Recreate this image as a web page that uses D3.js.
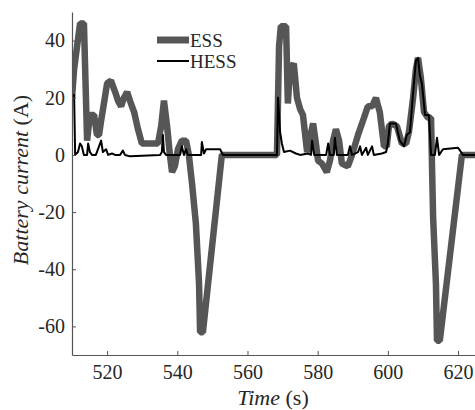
<!DOCTYPE html>
<html>
<head>
<meta charset="utf-8">
<script src="https://cdn.jsdelivr.net/npm/d3@7"></script>
<style>
  body { margin: 0; background: #fff; }
  svg text { font-family: "Liberation Serif", "DejaVu Serif", serif; fill: #262626; }
</style>
</head>
<body>
<div id="chart_area"></div>
<script>
// ESS battery current (time in s, current in A)
var essTime = [510.0, 510.6, 512.3, 513.4, 514.3, 515.1, 516.3, 517.1, 517.7, 518.3, 519.1, 520.0, 521.1,
  522.3, 523.1, 524.0, 524.8, 525.7, 526.5, 527.7, 528.8, 529.9, 534.5, 535.4, 536.2, 537.1, 537.9,
  538.5, 539.3, 540.2, 541.3, 542.5, 543.3, 544.2, 545.3, 546.2, 546.5, 547.3, 552.7, 568.4, 569.0,
  569.5, 571.0, 571.5, 572.1, 573.2, 574.1, 575.0, 575.8, 577.0, 577.8, 578.7, 579.5, 580.1, 581.2,
  582.6, 583.5, 584.4, 585.2, 586.1, 586.9, 588.6, 589.8, 591.5, 593.2, 594.3, 595.5, 596.6, 597.7,
  598.9, 599.7, 600.3, 601.2, 602.6, 604.0, 605.2, 606.0, 607.2, 608.0, 608.6, 609.4, 610.3, 611.4,
  612.3, 612.6, 612.9, 613.7, 614.0, 614.8, 621.1, 630.0];
var essCurrent = [20, 30, 46, 46, 5, 14, 14, 7, 7, 12, 18, 25, 26,
  22, 19, 17, 20, 22, 19, 15, 9, 4, 4, 10, 19, 10, 0,
  -6, -4, 2, 5, 5, 0, -10, -24, -45, -62, -62, 0, 0, 38,
  45, 45, 18, 30, 32, 20, 16, 14, 1, 6, 11, 4, -2, -3,
  -6, -2, 5, 9, 5, -3, -4, 0, 7, 13, 17, 17, 20, 15,
  3, 3, 10, 11, 10, 4, 4, 8, 20, 30, 34, 27, 15, 13,
  13, -5, -22, -45, -65, -65, 0, 0];

// HESS battery current
var hessTime = [510.0, 510.6, 510.9, 511.7, 512.3, 512.8, 513.4, 514.3, 514.6, 515.1, 515.7, 516.8,
  517.7, 518.3, 518.8, 519.7, 520.3, 521.4, 522.3, 523.7, 524.5, 525.1, 526.5, 535.1, 535.6, 535.9,
  536.2, 536.8, 540.8, 541.3, 541.9, 542.5, 543.0, 546.8, 547.0, 547.6, 548.2, 552.2, 553.0, 568.4,
  568.7, 569.3, 569.8, 570.4, 572.1, 573.8, 575.0, 577.2, 578.1, 578.4, 579.0, 580.7, 582.4, 583.0,
  583.5, 584.6, 584.9, 585.5, 588.6, 589.2, 589.8, 591.5, 592.1, 592.6, 593.8, 594.3, 595.5, 596.0,
  598.3, 599.5, 600.0, 600.6, 602.3, 603.4, 604.6, 605.4, 606.3, 607.2, 608.0, 608.6, 609.1, 609.7,
  610.6, 611.7, 612.3, 613.4, 614.0, 614.6, 615.7, 620.0, 621.4, 630.0];
var hessCurrent = [21, 21, 0, 1, 4, 3, 0, 0, 4, 1, 0, 0,
  3, 5, 1, 2, 0, 0.5, 0, 0, 1.5, 0, -0.5, 0, 1, 7,
  1, 0, 0, 3, 0, 2, 0, 0, 4.5, 0.5, 2, 2, 0, 0,
  20, 8, 4, 1, 1.5, 0.5, 0, 0.5, 0, 5, 0, 0, 0, 4,
  0, 0, 6, 0, 0, 3, 0, 1, 3, 0, 2.5, 0, 3, 0,
  0.5, 1, 4, 11, 11, 5, 3, 7, 8, 22, 33, 34, 28, 25,
  14, 14, 0, 0, 6, 0, 2, 2.5, 0, 0];

var xTicks = [520, 540, 560, 580, 600, 620];
var yTicks = [-60, -40, -20, 0, 20, 40];
var seriesNames = ["ESS", "HESS"];

var serif = "'Liberation Serif', 'DejaVu Serif', serif";

// sizes
var frame_width = 475, frame_height = 410;
var margin = {top: 12, left: 72};
var plot_right = 475.6, plot_bottom = 355;

var svg = d3.select("#chart_area").append("svg")
  .attr("width", frame_width)
  .attr("height", frame_height);

var xScale = d3.scaleLinear().domain([510, 625]).range([margin.left, plot_right]);
var yScale = d3.scaleLinear().domain([-70, 50]).range([plot_bottom, margin.top]);

svg.append("clipPath").attr("id", "clip")
  .append("rect")
  .attr("x", margin.left).attr("y", margin.top - 4)
  .attr("width", plot_right - margin.left).attr("height", plot_bottom - margin.top + 4);

function toPoints(ts, vs) {
  return ts.map(function(t, i) { return [t, vs[i]]; });
}
var line = d3.line()
  .x(function(d) { return xScale(d[0]); })
  .y(function(d) { return yScale(d[1]); });

var plot = svg.append("g").attr("clip-path", "url(#clip)");
plot.append("path")
  .attr("d", line(toPoints(essTime, essCurrent)))
  .attr("fill", "none")
  .attr("stroke", "#565656")
  .attr("stroke-width", 6.5)
  .attr("stroke-linejoin", "bevel");
plot.append("path")
  .attr("d", line(toPoints(hessTime, hessCurrent)))
  .attr("fill", "none")
  .attr("stroke", "#000")
  .attr("stroke-width", 2)
  .attr("stroke-linejoin", "round");

// axes (MATLAB style: ticks inside, hyphen minus)
var plain = function(d) { return String(d); };
var xAxis = d3.axisBottom(xScale).tickValues(xTicks).tickFormat(plain)
  .tickSizeInner(-4).tickSizeOuter(0).tickPadding(10);
var yAxis = d3.axisLeft(yScale).tickValues(yTicks).tickFormat(plain)
  .tickSizeInner(-4).tickSizeOuter(0).tickPadding(7);

var gx = svg.append("g")
  .attr("transform", "translate(0," + plot_bottom + ")")
  .call(xAxis);
var gy = svg.append("g")
  .attr("transform", "translate(" + margin.left + ",0)")
  .call(yAxis);
[gx, gy].forEach(function(g) {
  g.attr("font-family", serif).attr("font-size", 20);
  g.select(".domain").attr("stroke", "#555").attr("stroke-width", 1.2);
  g.selectAll(".tick line").attr("stroke", "#555");
  g.selectAll(".tick text").attr("fill", "#262626");
});

// axis titles
var xt = svg.append("text")
  .attr("x", 273).attr("y", 405)
  .attr("text-anchor", "middle")
  .attr("font-family", serif)
  .attr("font-size", 22);
xt.append("tspan").attr("font-style", "italic").text("Time");
xt.append("tspan").text(" (s)");

var yt = svg.append("text")
  .attr("transform", "translate(28,180) rotate(-90)")
  .attr("text-anchor", "middle")
  .attr("font-family", serif)
  .attr("font-size", 22);
yt.append("tspan").attr("font-style", "italic").text("Battery current");
yt.append("tspan").text(" (A)");

// legend
var legend = svg.append("g");
var legendY = [40, 61];
var legendStroke = [["#565656", 7], ["#000", 2]];
seriesNames.forEach(function(name, i) {
  legend.append("line")
    .attr("x1", 157).attr("x2", 189)
    .attr("y1", legendY[i]).attr("y2", legendY[i])
    .attr("stroke", legendStroke[i][0])
    .attr("stroke-width", legendStroke[i][1]);
  legend.append("text")
    .attr("x", 190).attr("y", legendY[i] + 7)
    .attr("font-family", serif)
    .attr("font-size", 19)
    .text(name);
});
</script>
</body>
</html>
